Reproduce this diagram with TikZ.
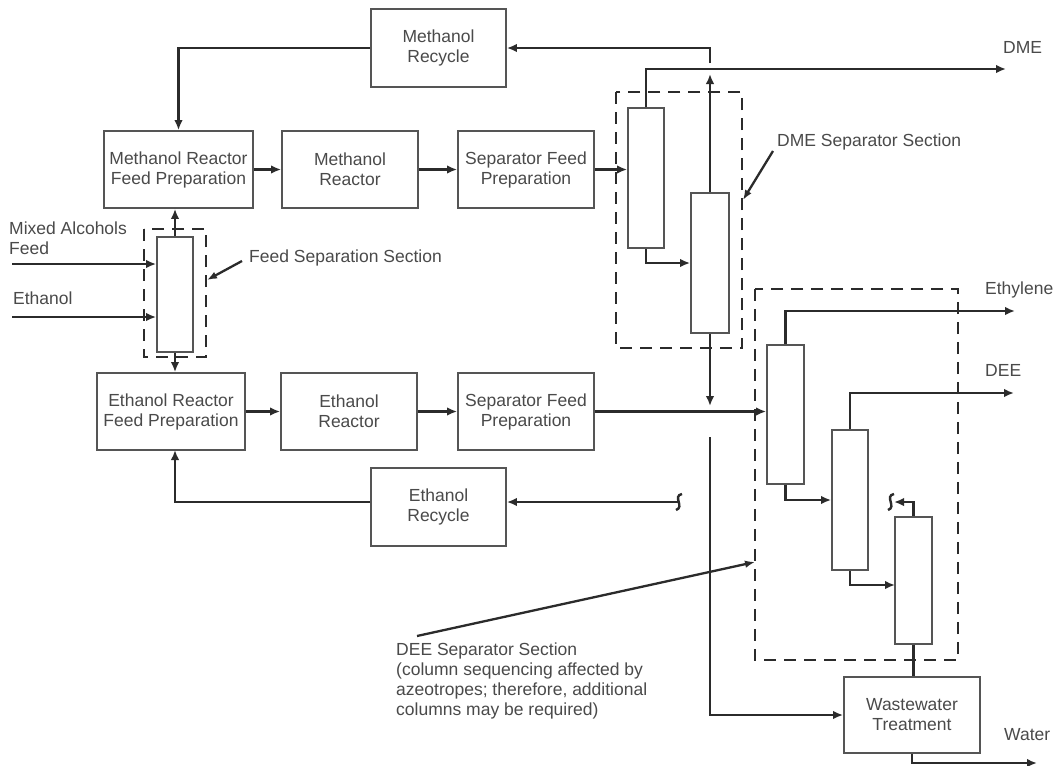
\documentclass[tikz,border=0pt]{standalone}
\usepackage{fontspec}
\setmainfont{Liberation Sans}
\usetikzlibrary{arrows.meta}
\definecolor{ink}{HTML}{2B2B2B}
\definecolor{boxc}{HTML}{555555}
\definecolor{txt}{HTML}{4A4A4A}

\tikzset{
  lbl/.style={font=\fontsize{17.5}{20}\selectfont, text=txt, inner sep=0pt},
  unit/.style={draw=boxc, line width=1.7pt, fill=white, lbl, align=center,
               minimum height=77pt, minimum width=136pt},
  column/.style={draw=boxc, line width=1.7pt, fill=white, inner sep=0pt},
  flow/.style={draw=ink, line width=2.6pt, -{Latex[length=10pt,width=8.5pt]}},
  pipe/.style={draw=ink, line width=2.6pt},
  section/.style={draw=ink, line width=2.6pt, dash pattern=on 12pt off 8pt},
  pointer/.style={draw=ink, line width=2.3pt, -{Latex[length=10pt,width=7.5pt]}},
  brk/.pic={\draw[ink, line width=2.4pt] (3,-8) .. controls (-7,-6) and (6,5) .. (-3,8);},
}

\begin{document}
\begin{tikzpicture}[x=1pt,y=-1pt]
\useasboundingbox[fill=white] (0,0) rectangle (1053,766);

% dashed section outlines
\draw[section] (144,229) rectangle (206,357);
\draw[section] (616,92) rectangle (742,348);
\draw[section] (755,289) rectangle (958,660);

% process units
\node[unit, minimum width=135pt, minimum height=78pt] (mrec) at (438.5,48) {Methanol\\Recycle};
\node[unit, minimum width=149pt] (mrfp) at (178.5,169.5) {Methanol Reactor\\Feed Preparation};
\node[unit] (mreac) at (350,169.5) {Methanol\\Reactor};
\node[unit] (msfp) at (526,169.5) {Separator Feed\\Preparation};
\node[unit, minimum width=148pt] (erfp) at (171,411.5) {Ethanol Reactor\\Feed Preparation};
\node[unit] (ereac) at (349,411.5) {Ethanol\\Reactor};
\node[unit] (esfp) at (526,411.5) {Separator Feed\\Preparation};
\node[unit, minimum width=135pt, minimum height=78pt] (erec) at (438.5,507) {Ethanol\\Recycle};
\node[unit, minimum height=76pt] (ww) at (912,715) {Wastewater\\Treatment};

% columns
\node[column, minimum width=36pt, minimum height=115pt] (fcol) at (175,294.5) {};
\node[column, minimum width=36pt, minimum height=140pt] (d1) at (646,178) {};
\node[column, minimum width=38pt, minimum height=140pt] (d2) at (710,263) {};
\node[column, minimum width=37pt, minimum height=139pt] (e1) at (785.5,414.5) {};
\node[column, minimum width=36pt, minimum height=140pt] (e2) at (850,500) {};
\node[column, minimum width=37pt, minimum height=127pt] (e3) at (913.5,580.5) {};

% stream end points
\coordinate (mixIn) at (12,264);
\coordinate (etIn) at (12,317);
\coordinate (dmeOut) at (1006,69);
\coordinate (mrTip) at (710,74);
\coordinate (mrGap) at (710,63);
\coordinate (wTip) at (710,406);
\coordinate (wStart) at (710,437);
\coordinate (erBreak) at (679,502);
\coordinate (erUp) at (175,450);
\coordinate (ethOut) at (1015,311);
\coordinate (deeOut) at (1014,393);
\coordinate (e3In) at (895,585);
\coordinate (recBreak) at (894,502);
\coordinate (waterOut) at (1037,763);

% methanol train
\draw[flow] (mrec.west) -| (mrfp.north);
\draw[flow] (mrfp) -- (mreac);
\draw[flow] (mreac) -- (msfp);
\draw[flow] (msfp.east) -- (msfp.east -| d1.west);
\draw[flow] (d1.south) |- (d2.west);
\draw[flow] (d1.north) |- (dmeOut);
\draw[flow] (d2.north) -- (mrTip);
\draw[flow] (mrGap) |- (mrec.east);
\draw[flow] (d2.south) -- (wTip);
\draw[flow] (wStart) |- (ww.west);

% feed separation
\draw[flow] (mixIn) -- (mixIn -| fcol.west);
\draw[flow] (etIn) -- (etIn -| fcol.west);
\draw[flow] (fcol.north) -- (fcol.north |- mrfp.south);
\draw[flow] (fcol.south) -- (fcol.south |- erfp.north);

% ethanol train
\draw[flow] (erfp) -- (ereac);
\draw[flow] (ereac) -- (esfp);
\draw[flow] (esfp.east) -- (esfp.east -| e1.west);
\draw[flow] (erBreak) -- (erec.east |- erBreak);
\draw[flow] (erec.west |- erBreak) -| (erUp);
\pic at (erBreak) {brk};

% DEE separation
\draw[flow] (e1.north) |- (ethOut);
\draw[flow] (e2.north) |- (deeOut);
\draw[flow] (e1.south) |- (e2.west);
\draw[flow] (e2.south) |- (e3In);
\draw[flow] (e3.north) |- (recBreak);
\pic at ([xshift=-3pt]recBreak) {brk};
\draw[pipe] (e3.south) -- (e3.south |- ww.north);
\draw[flow] (ww.south) |- (waterOut);

% stream labels
\node[lbl, anchor=west, align=left] (mixLbl) at (9,238) {Mixed Alcohols\\Feed};
\node[lbl, anchor=west] (etLbl) at (13,298) {Ethanol};
\node[lbl, anchor=west] (dmeLbl) at (1003,47) {DME};
\node[lbl, anchor=west] (ethLbl) at (985,290) {Ethylene};
\node[lbl, anchor=west] (deeLbl) at (985,370) {DEE};
\node[lbl, anchor=west] (waterLbl) at (1004,735) {Water};

% section callouts
\node[lbl, anchor=west] (feedSec) at (249,258) {Feed Separation Section};
\node[lbl, anchor=west] (dmeSec) at (777,142) {DME Separator Section};
\node[lbl, anchor=west, align=left] (deeSec) at (396,681)
  {DEE Separator Section\\(column sequencing affected by\\azeotropes; therefore, additional\\columns may be required)};
\coordinate (feedTail) at (242,261);
\coordinate (feedHit) at (207,280);
\coordinate (dmeTail) at (773,151);
\coordinate (dmeHit) at (743,200);
\coordinate (deeTail) at (417,636);
\coordinate (deeHit) at (755,562);
\draw[pointer] (feedTail) -- (feedHit);
\draw[pointer] (dmeTail) -- (dmeHit);
\draw[pointer] (deeTail) -- (deeHit);
\end{tikzpicture}
\end{document}
